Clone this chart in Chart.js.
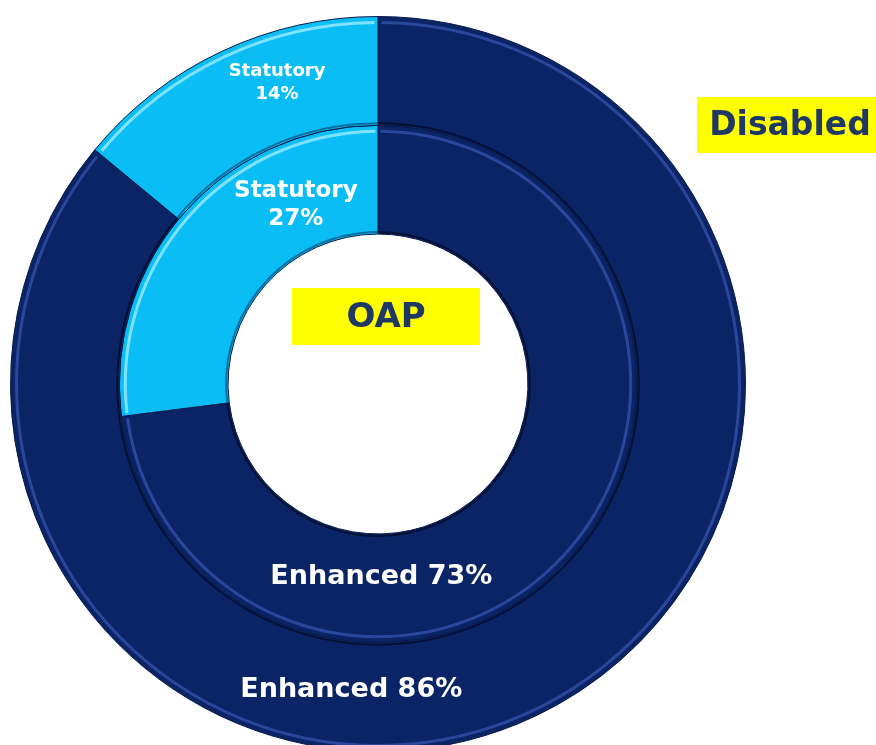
<!DOCTYPE html>
<html>
<head>
<meta charset="utf-8">
<script src="https://cdn.jsdelivr.net/npm/chart.js@4.4.1/dist/chart.umd.min.js"></script>
<style>
  html, body { margin: 0; padding: 0; background: #ffffff; overflow: hidden; }
  #wrap { position: absolute; left: 0; top: 0; width: 876px; height: 768px; }
</style>
</head>
<body>
<div id="wrap"><canvas id="c"></canvas></div>
<script>
// Data
const categories = ['Enhanced', 'Statutory'];
const disabledValues = [86, 14];   // outer ring
const oapValues = [73, 27];        // inner ring
const ringNames = ['Disabled', 'OAP'];

const NAVY = '#0A2466';
const SKY = '#0ABEF5';
const TEXTNAVY = '#1F3864';

// label placement: angle (deg, clockwise from top), radial offset from ring middle, font size
const labelPlacement = {
  0: { 0: { angle: 185, dr: -6, font: 27, lh: 0 }, 1: { angle: -18.5, dr: 5, font: 18, lh: 23 } },
  1: { 0: { angle: 179, dr: -11, font: 27, lh: 0 }, 1: { angle: -24.6, dr: -7, font: 23, lh: 28 } }
};

const bevelPlugin = {
  id: 'bevel',
  afterDatasetsDraw(chart) {
    const ctx = chart.ctx;
    chart.data.datasets.forEach((ds, di) => {
      const meta = chart.getDatasetMeta(di);
      meta.data.forEach((arc, i) => {
        const p = arc.getProps(['x','y','startAngle','endAngle','innerRadius','outerRadius'], true);
        const light = i === 0 ? 'rgba(70,100,200,0.55)' : 'rgba(140,230,255,0.9)';
        const dark = i === 0 ? 'rgba(2,12,40,0.8)' : 'rgba(0,80,130,0.7)';
        ctx.save();
        ctx.lineWidth = 3;
        ctx.strokeStyle = light;
        ctx.beginPath();
        ctx.arc(p.x, p.y, p.outerRadius - 6, p.startAngle + 0.01, p.endAngle - 0.01);
        ctx.stroke();
        ctx.lineWidth = 2;
        ctx.strokeStyle = dark;
        ctx.beginPath();
        ctx.arc(p.x, p.y, p.innerRadius + 2, p.startAngle, p.endAngle);
        ctx.stroke();
        ctx.restore();
      });
    });
  }
};

const labelPlugin = {
  id: 'segLabels',
  afterDraw(chart) {
    const ctx = chart.ctx;
    chart.data.datasets.forEach((ds, di) => {
      const meta = chart.getDatasetMeta(di);
      meta.data.forEach((arc, i) => {
        const p = arc.getProps(['x','y','innerRadius','outerRadius'], true);
        const lp = labelPlacement[di][i];
        const r = (p.innerRadius + p.outerRadius) / 2 + lp.dr;
        const a = lp.angle * Math.PI / 180;
        const x = p.x + r * Math.sin(a);
        const y = p.y - r * Math.cos(a);
        ctx.save();
        ctx.fillStyle = '#ffffff';
        ctx.font = 'bold ' + lp.font + 'px "DejaVu Sans", Verdana, sans-serif';
        ctx.textAlign = 'center';
        ctx.textBaseline = 'middle';
        const pct = ds.data[i] + '%';
        if (lp.lh) {
          ctx.fillText(categories[i], x, y - lp.lh / 2);
          ctx.fillText(pct, x, y + lp.lh / 2);
        } else {
          ctx.fillText(categories[i] + ' ' + pct, x, y);
        }
        ctx.restore();
      });
    });
    // ring name boxes
    ctx.save();
    ctx.fillStyle = '#FFFF00';
    ctx.fillRect(697, 97, 179, 56);
    ctx.fillRect(292, 288, 188, 57);
    ctx.fillStyle = TEXTNAVY;
    ctx.textAlign = 'center';
    ctx.textBaseline = 'middle';
    ctx.font = 'bold 33px "DejaVu Sans", Verdana, sans-serif';
    ctx.fillText(ringNames[0], 790, 126);
    ctx.font = 'bold 34px "DejaVu Sans", Verdana, sans-serif';
    ctx.fillText(ringNames[1], 386, 318);
    ctx.restore();
  }
};

new Chart(document.getElementById('c'), {
  type: 'doughnut',
  data: {
    labels: categories,
    datasets: [
      { label: ringNames[0], data: disabledValues, backgroundColor: [NAVY, SKY], borderColor: '#071a4a', borderWidth: 1 },
      { label: ringNames[1], data: oapValues, backgroundColor: [NAVY, SKY], borderColor: '#071a4a', borderWidth: 1 }
    ]
  },
  options: {
    responsive: true,
    maintainAspectRatio: false,
    animation: false,
    cutout: '40.8%',
    layout: { padding: { left: 10, right: 130, top: 10, bottom: 10 } },
    plugins: { legend: { display: false }, tooltip: { enabled: false } }
  },
  plugins: [bevelPlugin, labelPlugin]
});
</script>
</body>
</html>
